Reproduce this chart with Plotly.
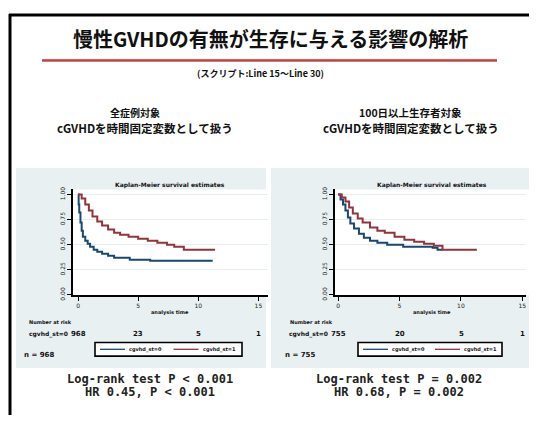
import plotly.graph_objects as go

# page body has an 8px margin: the figure is drawn from (8, 8) of the window
OFF = 8
W, H = 537 - 2 * OFF, 428 - 2 * OFF

# ---------------- data ----------------
title_text = "慢性GVHDの有無が生存に与える影響の解析"
subtitle_text = "(スクリプト:Line 15～Line 30)"
left_head = ["全症例対象", "cGVHDを時間固定変数として扱う"]
right_head = ["100日以上生存者対象", "cGVHDを時間固定変数として扱う"]
left_stats = ["Log-rank test P < 0.001", "HR 0.45, P < 0.001"]
right_stats = ["Log-rank test P = 0.002", "HR 0.68, P = 0.002"]
group_labels = ["cgvhd_st=0", "cgvhd_st=1"]
x_ticks = [0, 5, 10, 15]
y_ticks = [0.0, 0.25, 0.5, 0.75, 1.0]
y_tick_labels = ["0.00", "0.25", "0.50", "0.75", "1.00"]

# left: all patients
L0_t = [0, 0.05, 0.1, 0.2, 0.3, 0.4, 0.6, 0.8, 1.0, 1.3, 1.6, 2.0, 2.5, 3.0, 4.3, 6.0, 11.2]
L0_s = [1.0, 0.90, 0.82, 0.72, 0.64, 0.58, 0.54, 0.51, 0.48, 0.45, 0.43, 0.41, 0.39, 0.37, 0.35, 0.34, 0.34]
L1_t = [0, 0.3, 0.6, 0.9, 1.2, 1.6, 2.0, 2.5, 3.0, 3.5, 4.2, 5.0, 5.8, 6.6, 7.4, 8.0, 8.8, 11.4]
L1_s = [1.0, 0.96, 0.90, 0.84, 0.78, 0.73, 0.69, 0.65, 0.62, 0.60, 0.58, 0.56, 0.54, 0.52, 0.50, 0.48, 0.45, 0.45]
# right: 100-day survivors
R0_t = [0, 0.2, 0.4, 0.6, 0.8, 1.0, 1.3, 1.7, 2.1, 2.6, 3.2, 4.0, 5.3, 7.7, 8.1, 8.5]
R0_s = [1.0, 0.95, 0.90, 0.84, 0.77, 0.71, 0.66, 0.61, 0.57, 0.54, 0.52, 0.50, 0.48, 0.47, 0.45, 0.45]
R1_t = [0, 0.3, 0.6, 0.9, 1.2, 1.6, 2.0, 2.6, 3.2, 3.8, 4.6, 5.4, 6.2, 7.0, 7.8, 8.5, 11.3]
R1_s = [1.0, 0.97, 0.93, 0.87, 0.81, 0.76, 0.72, 0.67, 0.64, 0.62, 0.58, 0.55, 0.53, 0.51, 0.49, 0.45, 0.45]

left_risk = ["968", "23", "5", "1"]
right_risk = ["755", "20", "5", "1"]
left_n = "n = 968"
right_n = "n = 755"

C0 = "#1a476f"
C1 = "#90353b"
PANEL = "#e9f0f2"


def px(x):
    return (x - OFF) / W


def py(y):
    return 1 - (y - OFF) / H


fig = go.Figure()

for t, s, c, xa, ya in [
    (L0_t, L0_s, C0, "x", "y"),
    (L1_t, L1_s, C1, "x", "y"),
    (R0_t, R0_s, C0, "x2", "y2"),
    (R1_t, R1_s, C1, "x2", "y2"),
]:
    fig.add_trace(go.Scatter(x=t, y=s, mode="lines", line=dict(color=c, width=2, shape="hv"),
                             xaxis=xa, yaxis=ya, showlegend=False, hoverinfo="skip"))

axis_common = dict(showline=True, linecolor="#000", linewidth=1.5, ticks="outside", ticklen=4,
                   tickcolor="#000", tickfont=dict(size=6, color="#222", family="DejaVu Sans"),
                   zeroline=False)

fig.update_layout(
    width=W, height=H, margin=dict(l=0, r=0, t=0, b=0),
    paper_bgcolor="white", plot_bgcolor="white", showlegend=False,
    xaxis=dict(domain=[px(73), px(268)], range=[-0.42, 15.8], tickvals=x_ticks, showgrid=False,
               anchor="y", **axis_common),
    yaxis=dict(domain=[py(298), py(190)], range=[-0.005, 1.05], tickvals=y_ticks, ticktext=y_tick_labels,
               tickangle=-90, showgrid=True, gridcolor="#e6eef0", anchor="x", **axis_common),
    xaxis2=dict(domain=[px(335), px(526)], range=[-0.25, 15.3], tickvals=x_ticks, showgrid=False,
                anchor="y2", **axis_common),
    yaxis2=dict(domain=[py(298), py(190)], range=[-0.005, 1.05], tickvals=y_ticks, ticktext=y_tick_labels,
                tickangle=-90, showgrid=True, gridcolor="#e6eef0", anchor="x2", **axis_common),
)

shapes = []
# gray graph regions (behind)
shapes.append(dict(type="rect", xref="paper", yref="paper", x0=px(16), x1=px(266), y0=py(372), y1=py(168),
                   fillcolor=PANEL, line=dict(width=0), layer="below"))
shapes.append(dict(type="rect", xref="paper", yref="paper", x0=px(271), x1=1.0, y0=py(372), y1=py(168),
                   fillcolor=PANEL, line=dict(width=0), layer="below"))
# white plot regions
shapes.append(dict(type="rect", xref="paper", yref="paper", x0=px(73), x1=px(266), y0=py(298), y1=py(190),
                   fillcolor="white", line=dict(width=0), layer="below"))
shapes.append(dict(type="rect", xref="paper", yref="paper", x0=px(335), x1=1.0, y0=py(298), y1=py(190),
                   fillcolor="white", line=dict(width=0), layer="below"))
# frame: top and left sides (others run past the picture)
shapes.append(dict(type="line", xref="paper", yref="paper", x0=px(9), x1=1.0, y0=py(12), y1=py(12),
                   line=dict(color="#000", width=3)))
shapes.append(dict(type="line", xref="paper", yref="paper", x0=px(10), x1=px(10), y0=py(11), y1=0.0,
                   line=dict(color="#000", width=3)))
# red rule under title
shapes.append(dict(type="line", xref="paper", yref="paper", x0=px(42), x1=px(497), y0=py(59), y1=py(59),
                   line=dict(color="#5a1010", width=1)))
shapes.append(dict(type="line", xref="paper", yref="paper", x0=px(42), x1=px(497), y0=py(58), y1=py(58),
                   line=dict(color="#e02020", width=1.6)))

annotations = []


def txt(x, y, s, size, bold=False, family="Noto Sans CJK JP", xanchor="center", color="#111"):
    annotations.append(dict(x=px(x), y=py(y), xref="paper", yref="paper", text=(f"<b>{s}</b>" if bold else s),
                            showarrow=False, xanchor=xanchor, yanchor="middle",
                            font=dict(size=size, family=family, color=color)))


txt(270, 36, title_text, 20, bold=True)
txt(260, 72, subtitle_text, 9, bold=True)
txt(135, 111, left_head[0], 10, bold=True)
txt(145, 127, left_head[1], 11.5, bold=True)
txt(410, 111, right_head[0], 10.5, bold=True)
txt(411, 127, right_head[1], 11.5, bold=True)

mono = "DejaVu Sans Mono"
txt(150, 383, left_stats[0], 12, bold=True, family=mono, color="#222")
txt(150, 397, left_stats[1], 12, bold=True, family=mono, color="#222")
txt(399, 383, right_stats[0], 12, bold=True, family=mono, color="#222")
txt(399, 397, right_stats[1], 12, bold=True, family=mono, color="#222")

for cx, cxo, risk, nlab, x0, lx0, lx1, step in [
    (170, 78, left_risk, left_n, 27, 95, 242, 12.0),
    (432, 338, right_risk, right_n, 288, 358, 502, 12.3),
]:
    txt(cx, 185, "Kaplan-Meier survival estimates", 6, bold=True, family="DejaVu Sans")
    txt(cx, 315, "analysis time", 5, bold=True, family="DejaVu Sans")
    txt(x0, 325, "Number at risk", 5, bold=True, family="DejaVu Sans", xanchor="left")
    txt(cxo - 8, 337, group_labels[0], 6, bold=True, family="DejaVu Sans", xanchor="right")
    txt(x0 - 5, 359, nlab, 7, bold=True, family="DejaVu Sans", xanchor="left")
    for i, r in enumerate(risk):
        txt(min(cxo + i * 5 * step, 523), 337, r, 7, bold=True, family="DejaVu Sans")
    # legend box
    shapes.append(dict(type="rect", xref="paper", yref="paper", x0=px(lx0), x1=px(lx1), y0=py(360), y1=py(346),
                       fillcolor="white", line=dict(color="#000", width=1.6)))
    wbox = lx1 - lx0
    for k, col in enumerate([C0, C1]):
        sx = lx0 + 5 + k * wbox / 2
        shapes.append(dict(type="line", xref="paper", yref="paper", x0=px(sx), x1=px(sx + 25), y0=py(353), y1=py(353),
                           line=dict(color=col, width=1.3)))
        txt(sx + 27, 353, group_labels[k], 5, bold=True, family="DejaVu Sans", xanchor="left")

fig.update_layout(shapes=shapes, annotations=annotations)
fig.write_html("out.html")
